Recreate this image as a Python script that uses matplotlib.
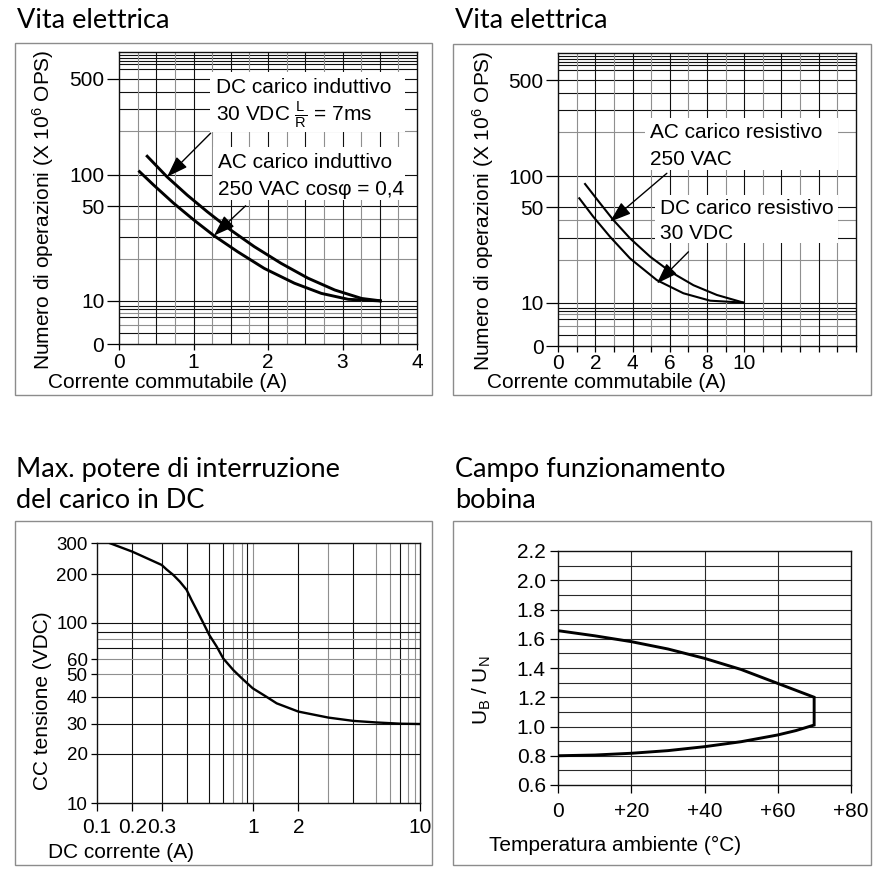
import numpy as np
import matplotlib
matplotlib.use('Agg')
import matplotlib.pyplot as plt
from matplotlib.patches import Rectangle

W, H = 880, 875

# --- data ---
# Vita elettrica, carico induttivo (A, x10^6 ops)
tl_dc_a = [0.365, 0.645, 0.915, 1.185, 1.5, 1.815, 2.176, 2.536, 2.896, 3.257, 3.527]
tl_dc_ops = [145, 97, 67.7, 45.5, 33.7, 25.5, 18.9, 15.4, 12.6, 10.6, 10]
tl_ac_a = [0.261, 0.464, 0.734, 1.004, 1.274, 1.591, 1.95, 2.355, 2.716, 3.077, 3.527]
tl_ac_ops = [110, 83.9, 54.4, 39.3, 30.6, 23.2, 17.7, 14.2, 11.8, 10.4, 10]

# Vita elettrica, carico resistivo
tr_ac_a = [1.44, 2.25, 2.96, 3.86, 4.94, 6.02, 7.27, 8.53, 9.96]
tr_ac_ops = [87.6, 56.5, 40.1, 29.9, 21.6, 17.3, 14.1, 11.8, 10]
tr_dc_a = [1.13, 1.88, 2.78, 3.86, 5.30, 6.73, 8.17, 9.96]
tr_dc_ops = [64.6, 42.7, 30.8, 20.8, 15.3, 12.2, 10.45, 10]

# Max. potere di interruzione DC
bl_a = [0.13, 0.2, 0.244, 0.3, 0.317, 0.342, 0.368, 0.397, 0.418, 0.44, 0.471,
        0.5, 0.551, 0.6, 0.7, 0.8, 1.0, 1.23, 1.44, 2, 3, 4, 5, 7, 10]
bl_v = [300, 269, 247, 226, 213, 198, 180, 160, 138, 120, 99.4,
        85.5, 71.7, 60.4, 52.6, 48.1, 43.5, 40, 37.3, 34.2, 32.1, 31, 30.5, 30.1, 30]

# Campo funzionamento bobina
br_t_up = [0, 10, 20, 30, 40, 50, 60, 70]
br_up = [1.655, 1.62, 1.58, 1.53, 1.466, 1.39, 1.295, 1.2]
br_t_low = [0, 10, 20, 30, 40, 50, 60, 65, 70]
br_low = [0.80, 0.805, 0.817, 0.835, 0.862, 0.896, 0.942, 0.972, 1.01]

# --- the printed grids are not true log grids, so map them piecewise ---
life_vals = [0, 4, 5, 6, 7, 8, 9, 10, 20, 30, 40, 50, 100, 200, 300, 400,
             500, 600, 700, 800, 900, 1000, 1100]
life_pos = [0, 0.0377, 0.0671, 0.0925, 0.1082, 0.1199, 0.1312, 0.1483, 0.2932,
            0.3685, 0.4301, 0.4736, 0.5798, 0.7305, 0.8058, 0.8630, 0.9086,
            0.9428, 0.9589, 0.9702, 0.9815, 0.9908, 1.0]

bl_x_vals = [0.1, 0.2, 0.3, 0.4, 0.5, 0.6, 0.7, 0.8, 0.9, 1, 2, 3, 4, 5, 6, 7, 8, 9, 10]
bl_x_px = [96.7, 132.3, 161.7, 187.3, 209.3, 223.3, 233.3, 241.7, 246.7, 252.7,
           298.3, 328.3, 353.3, 376, 390, 400, 408.3, 415, 420]
bl_y_vals = [10, 20, 30, 40, 50, 60, 70, 80, 90, 100, 200, 300]
bl_y_px = [803.3, 754, 724, 696.7, 674.3, 659, 648.3, 639.3, 631.7, 622.7, 574.3, 543.3]

life_f = np.array(life_pos)
life_v = np.array(life_vals, dtype=float)
bx_f = (np.array(bl_x_px) - 96.7) / 323.3
bx_l = np.log10(bl_x_vals)
by_f = (803.3 - np.array(bl_y_px)) / 260.0
by_l = np.log10(bl_y_vals)


def life_fwd(v):
    return np.interp(v, life_v, life_f)


def life_inv(f):
    return np.interp(f, life_f, life_v)


def blx_fwd(v):
    return np.interp(np.log10(np.clip(v, 1e-6, None)), bx_l, bx_f)


def blx_inv(f):
    return 10 ** np.interp(f, bx_f, bx_l)


def bly_fwd(v):
    return np.interp(np.log10(np.clip(v, 1e-6, None)), by_l, by_f)


def bly_inv(f):
    return 10 ** np.interp(f, by_f, by_l)


plt.rcParams['font.family'] = ['Liberation Sans', 'DejaVu Sans']
plt.rcParams['font.size'] = 15
plt.rcParams['mathtext.fontset'] = 'custom'
plt.rcParams['mathtext.rm'] = 'Liberation Sans'
plt.rcParams['mathtext.it'] = 'Liberation Sans:italic'
plt.rcParams['mathtext.bf'] = 'Liberation Sans:bold'
plt.rcParams['mathtext.default'] = 'regular'

BLACK = '#111111'
GREY = '#8f8f8f'
TITLE_FONT = ['Lato', 'DejaVu Sans']
TSIZE = 19.5

fig = plt.figure(figsize=(W / 100, H / 100), dpi=100)


def add_ax(l, t, r, b):
    return fig.add_axes([l / W, 1 - b / H, (r - l) / W, (b - t) / H])


def ftext(x, y, s, **kw):
    return fig.text(x / W, 1 - y / H, s, **kw)


def frame(x0, y0, x1, y1):
    fig.add_artist(Rectangle((x0 / W, 1 - y1 / H), (x1 - x0) / W, (y1 - y0) / H,
                             transform=fig.transFigure, fill=False,
                             ec='#8c8c8c', lw=1.0))


def arrow(ax, tip, start):
    ax.annotate('', xy=tip, xytext=start,
                arrowprops=dict(arrowstyle='-|>,head_length=1.3,head_width=0.45',
                                mutation_scale=10, color='black', lw=1.0,
                                shrinkA=0, shrinkB=0), zorder=6)


def label_box(ax, x0, y0, x1, y1):
    ax.add_patch(Rectangle((x0, y0), x1 - x0, y1 - y0, transform=ax.transAxes,
                           fc='white', ec='none', zorder=3))


for x0, y0, x1, y1 in [(15, 43, 432, 395), (453, 44, 871, 395),
                       (15, 521, 432, 865), (453, 521, 871, 865)]:
    frame(x0, y0, x1, y1)

# ---------------- top row: Vita elettrica ----------------
ax_tl = add_ax(119, 52.3, 417, 344.3)
ax_tr = add_ax(558.3, 53.3, 855.7, 346)

life_ticks = [0, 10, 50, 100, 500]
life_grid = [4, 5, 6, 7, 8, 9, 10, 20, 30, 40, 50, 100, 200, 300, 400, 500,
             600, 700, 800, 900, 1000]
grey_h = [5, 7, 20, 40, 200]

for ax in (ax_tl, ax_tr):
    ax.set_yscale('function', functions=(life_fwd, life_inv))
    ax.set_ylim(0, 1100)
    ax.set_yticks(life_ticks, [str(v) for v in life_ticks])
    ax.yaxis.set_minor_locator(matplotlib.ticker.NullLocator())
    for v in life_grid:
        ax.axhline(v, color=GREY if v in grey_h else BLACK, lw=0.8, zorder=1)
    ax.tick_params(axis='y', length=8.6, width=0.9, pad=2)
    ax.tick_params(axis='x', length=4.5, width=0.9, pad=1.5)
    for s in ax.spines.values():
        s.set_linewidth(1.0)
        s.set_color(BLACK)

ax_tl.set_xlim(0, 4)
ax_tl.set_xticks([0, 1, 2, 3, 4], ['0', '1', '2', '3', '4'])
for k in range(1, 16):
    ax_tl.axvline(k * 0.25, color=BLACK if k % 2 == 0 else GREY, lw=0.8, zorder=1)
ax_tl.plot(tl_dc_a, tl_dc_ops, color='black', lw=2.1, zorder=5, solid_capstyle='butt')
ax_tl.plot(tl_ac_a, tl_ac_ops, color='black', lw=2.1, zorder=5, solid_capstyle='butt')

label_box(ax_tl, 0.305, 0.727, 0.96, 0.9325)
label_box(ax_tl, 0.315, 0.494, 0.96, 0.676)
ax_tl.text(0.326, 0.881, 'DC carico induttivo', transform=ax_tl.transAxes,
           va='center', ha='left', zorder=4)
ax_tl.text(0.326, 0.785, r'30 VDC $\frac{L}{R}$ = 7ms', transform=ax_tl.transAxes,
           va='center', ha='left', zorder=4)
ax_tl.text(0.333, 0.624, 'AC carico induttivo', transform=ax_tl.transAxes,
           va='center', ha='left', zorder=4)
ax_tl.text(0.333, 0.529, '250 VAC cosφ = 0,4', transform=ax_tl.transAxes,
           va='center', ha='left', zorder=4)
arrow(ax_tl, (0.645, 97), (1.23, 195))
arrow(ax_tl, (1.274, 30.6), (1.70, 50.4))

ax_tr.set_xlim(0, 16)
ax_tr.set_xticks(list(range(17)),
                 [str(k) if (k % 2 == 0 and k <= 10) else '' for k in range(17)])
for k in range(1, 16):
    ax_tr.axvline(k, color=BLACK if k % 2 == 0 else GREY, lw=0.8, zorder=1)
ax_tr.plot(tr_ac_a, tr_ac_ops, color='black', lw=1.5, zorder=5)
ax_tr.plot(tr_dc_a, tr_dc_ops, color='black', lw=1.5, zorder=5)

label_box(ax_tr, 0.292, 0.601, 0.94, 0.779)
label_box(ax_tr, 0.325, 0.352, 0.94, 0.516)
ax_tr.text(0.308, 0.728, 'AC carico resistivo', transform=ax_tr.transAxes,
           va='center', ha='left', zorder=4)
ax_tr.text(0.308, 0.636, '250 VAC', transform=ax_tr.transAxes,
           va='center', ha='left', zorder=4)
ax_tr.text(0.342, 0.471, 'DC carico resistivo', transform=ax_tr.transAxes,
           va='center', ha='left', zorder=4)
ax_tr.text(0.342, 0.386, '30 VDC', transform=ax_tr.transAxes,
           va='center', ha='left', zorder=4)
arrow(ax_tr, (2.78, 39.1), (5.84, 106.8))
arrow(ax_tr, (5.30, 14.5), (7.0, 23.8))

ylab = r'Numero di operazioni (X 10$^6$ OPS)'
ftext(43, 210, ylab, rotation=90, ha='center', va='center')
ftext(483, 211, ylab, rotation=90, ha='center', va='center')
ftext(48, 382, 'Corrente commutabile (A)', ha='left', va='center')
ftext(486.7, 382, 'Corrente commutabile (A)', ha='left', va='center')

ftext(17, 28, 'Vita elettrica', fontsize=TSIZE, family=TITLE_FONT, va='baseline')
ftext(455, 28, 'Vita elettrica', fontsize=TSIZE, family=TITLE_FONT, va='baseline')

# ---------------- bottom left: potere di interruzione ----------------
ax_bl = add_ax(96.7, 543.3, 420, 803.3)
ax_bl.set_xscale('function', functions=(blx_fwd, blx_inv))
ax_bl.set_yscale('function', functions=(bly_fwd, bly_inv))
ax_bl.set_xlim(0.1, 10)
ax_bl.set_ylim(10, 300)
ax_bl.set_xticks([0.1, 0.2, 0.3, 1, 2, 10], ['0.1', '0.2', '0.3', '1', '2', '10'])
ax_bl.set_yticks([10, 20, 30, 40, 50, 60, 100, 200, 300],
                 ['10', '20', '30', '40', '50', '60', '100', '200', '300'])
ax_bl.xaxis.set_minor_locator(matplotlib.ticker.NullLocator())
ax_bl.yaxis.set_minor_locator(matplotlib.ticker.NullLocator())
grey_v = [0.7, 0.8, 1, 3, 5, 6, 8, 9]
for v in [0.2, 0.3, 0.4, 0.5, 0.6, 0.7, 0.8, 0.9, 1, 2, 3, 4, 5, 6, 7, 8, 9]:
    ax_bl.axvline(v, color=GREY if v in grey_v else BLACK, lw=0.8, zorder=1)
for v in [20, 30, 40, 50, 60, 70, 80, 90, 100, 200]:
    ax_bl.axhline(v, color=GREY if v in (50, 60, 80) else BLACK, lw=0.8, zorder=1)
ax_bl.plot(bl_a, bl_v, color='black', lw=1.7, zorder=5)
ax_bl.tick_params(axis='y', length=4.5, width=0.9, pad=2, labelsize=13.5)
ax_bl.tick_params(axis='x', length=6, width=0.9, pad=4.5)
for s in ax_bl.spines.values():
    s.set_linewidth(1.0)
    s.set_color(BLACK)

ftext(42, 701, 'CC tensione (VDC)', rotation=90, ha='center', va='center')
ftext(48, 853, 'DC corrente (A)', ha='left', va='center')
ftext(16, 476.7, 'Max. potere di interruzione', fontsize=TSIZE, family=TITLE_FONT, va='baseline')
ftext(16, 508.3, 'del carico in DC', fontsize=TSIZE, family=TITLE_FONT, va='baseline')

# ---------------- bottom right: campo funzionamento bobina ----------------
ax_br = add_ax(558.3, 551, 850.7, 785)
ax_br.set_xlim(0, 80)
ax_br.set_ylim(0.6, 2.2)
ax_br.set_xticks([0, 20, 40, 60, 80], ['0', '+20', '+40', '+60', '+80'])
yt = [0.6, 0.8, 1.0, 1.2, 1.4, 1.6, 1.8, 2.0, 2.2]
ax_br.set_yticks(yt, [f'{v:.1f}' for v in yt])
for k in range(7, 22):
    ax_br.axhline(k / 10, color='#2a2a2a', lw=0.8, zorder=1)
for v in [20, 40, 60]:
    ax_br.axvline(v, color='#2a2a2a', lw=0.8, zorder=1)
ax_br.plot(br_t_low + br_t_up[::-1], br_low + br_up[::-1], color='black', lw=2.1,
           zorder=5, solid_joinstyle='miter')
ax_br.tick_params(axis='y', length=6, width=0.9, pad=3)
ax_br.tick_params(axis='x', length=6, width=0.9, pad=6)
for s in ax_br.spines.values():
    s.set_linewidth(1.0)
    s.set_color(BLACK)

ftext(481.7, 690, r'U$_B$ / U$_N$', rotation=90, ha='center', va='center')
ftext(489, 845, 'Temperatura ambiente (°C)', ha='left', va='center')
ftext(455, 476.7, 'Campo funzionamento', fontsize=TSIZE, family=TITLE_FONT, va='baseline')
ftext(455, 508.3, 'bobina', fontsize=TSIZE, family=TITLE_FONT, va='baseline')

fig.savefig('out.png', dpi=100)
